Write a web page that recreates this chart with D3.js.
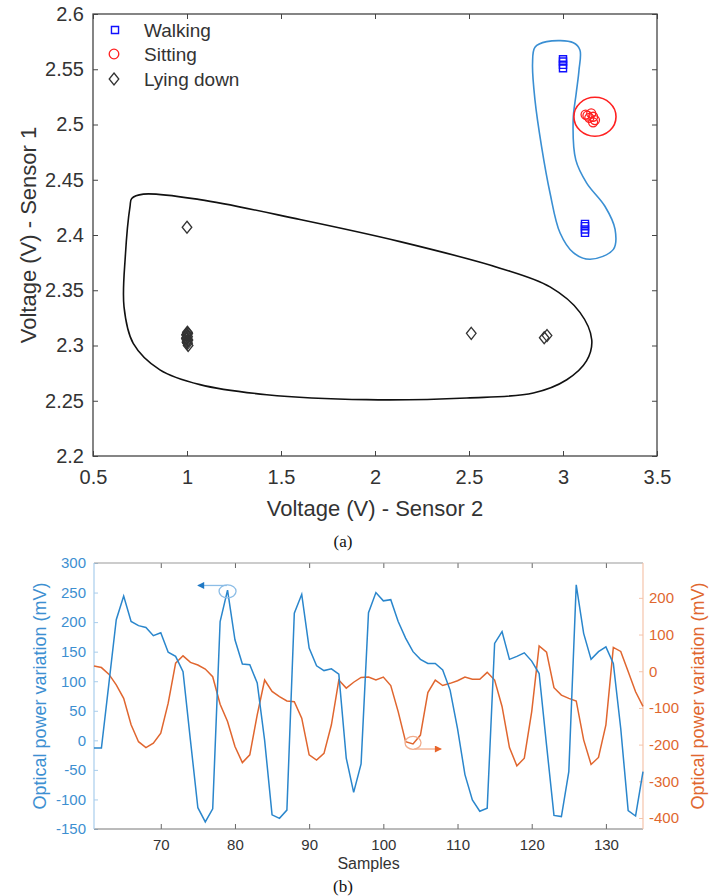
<!DOCTYPE html>
<html lang="en">
<head>
<meta charset="UTF-8">
<title>Sensor voltages and optical power</title>
<script src="https://d3js.org/d3.v7.min.js"></script>
<style>
    html, body { margin: 0; padding: 0; background: #fff; }
    svg text { font-family: "Liberation Sans", Arial, Helvetica, sans-serif; }
    .caption { font-family: "Liberation Serif", "Times New Roman", serif !important; }
</style>
</head>
<body>
<svg id="chart" width="716" height="896"></svg>
<script>
    // ---- (a) scatter data: [sensor 2, sensor 1] ----
    const walkingPts = [[3.0, 2.551], [3.0, 2.554], [3.0, 2.557], [3.0, 2.559],
                        [3.117, 2.402], [3.117, 2.405], [3.117, 2.408], [3.117, 2.410]];
    const sittingPts = [[3.12, 2.509], [3.13, 2.508], [3.15, 2.510], [3.16, 2.507],
                        [3.17, 2.504], [3.16, 2.502], [3.14, 2.506]];
    const lyingPts = [[1.0, 2.407],
                      [1.0, 2.303], [1.005, 2.305], [0.998, 2.307], [1.003, 2.308], [1.0, 2.310],
                      [1.004, 2.311], [0.997, 2.306], [1.006, 2.300], [1.001, 2.304], [0.999, 2.309],
                      [1.002, 2.312], [1.0, 2.306], [1.003, 2.302], [0.998, 2.310],
                      [2.512, 2.311], [2.9, 2.307], [2.915, 2.309]];
    const legendLabels = ["Walking", "Sitting", "Lying down"];

    // hand drawn group outlines, in data units
    const lyingOutline = [[0.706, 2.433], [0.768, 2.437], [1.069, 2.432], [1.601, 2.414], [2.133, 2.394],
        [2.665, 2.370], [2.931, 2.353], [3.09, 2.330], [3.153, 2.305], [3.125, 2.286], [3.02, 2.269],
        [2.842, 2.257], [2.488, 2.2525], [1.956, 2.251], [1.424, 2.2555], [1.069, 2.2646], [0.856, 2.278],
        [0.714, 2.302], [0.665, 2.335], [0.672, 2.381], [0.697, 2.426]];
    const walkingOutline = [[2.851, 2.570], [2.913, 2.575], [3.055, 2.574], [3.090, 2.5675], [3.085, 2.549],
        [3.070, 2.528], [3.054, 2.504], [3.068, 2.468], [3.126, 2.447], [3.223, 2.426], [3.277, 2.405],
        [3.268, 2.387], [3.144, 2.378], [3.055, 2.384], [2.984, 2.402], [2.931, 2.438], [2.886, 2.480],
        [2.851, 2.522], [2.838, 2.555]];
    const sittingRing = { cx: 3.17, cy: 2.507, rx: 0.112, ry: 0.0176 };

    const xTicksA = [0.5, 1, 1.5, 2, 2.5, 3, 3.5];
    const yTicksA = [2.2, 2.25, 2.3, 2.35, 2.4, 2.45, 2.5, 2.55, 2.6];

    // ---- (b) time series ----
    const samples = d3.range(61, 136);
    const leftSeries = [-13, -13, 95, 204, 244, 201, 194, 191, 177, 182,
        149, 142, 116, 0, -114, -138, -116, 201, 254, 170,
        129, 128, 97, 0, -126, -132, -118, 215, 247, 156,
        126, 118, 121, 112, -30, -88, -40, 216, 250, 236,
        238, 201, 173, 150, 137, 130, 130, 119, 85, 20,
        -58, -101, -120, -115, 164, 184, 137, 142, 148, 134,
        113, -8, -127, -129, -53, 263, 181, 137, 150, 158,
        130, 20, -119, -128, -53];
    const rightSeries = [14, 10, -8, -37, -74, -146, -192, -208, -196, -169,
        -87, 22, 42, 24, 17, 6, -15, -90, -137, -205,
        -249, -228, -119, -24, -55, -69, -81, -83, -128, -228,
        -242, -224, -146, -24, -46, -30, -17, -16, -24, -16,
        -39, -110, -192, -198, -174, -58, -24, -39, -33, -26,
        -16, -22, -22, -3, -24, -96, -208, -258, -237, -110,
        69, 52, -45, -65, -74, -81, -187, -254, -235, -146,
        65, 54, -1, -56, -96];
    const xTicksB = [70, 80, 90, 100, 110, 120, 130];
    const leftTicksB = [-150, -100, -50, 0, 50, 100, 150, 200, 250, 300];
    const rightTicksB = [-400, -300, -200, -100, 0, 100, 200];

    // plain hyphen for negatives, like the original
    const fmt = d => String(+d.toFixed(3));

    const svg = d3.select("#chart");

    // =================== panel (a) ===================
    const A = { left: 93, right: 657, top: 14, bottom: 456 };
    const xa = d3.scaleLinear().domain([0.5, 3.5]).range([A.left, A.right]);
    const ya = d3.scaleLinear().domain([2.2, 2.6]).range([A.bottom, A.top]);
    const axisGrey = "#444";
    const textGrey = "#333";

    const ga = svg.append("g");

    function styleAxis(sel, col) {
        sel.select(".domain").remove();
        sel.selectAll(".tick line").attr("stroke", col).attr("stroke-width", 1);
    }

    ga.append("g").attr("transform", `translate(0,${A.bottom})`)
        .call(d3.axisBottom(xa).tickValues(xTicksA).tickSize(-5).tickPadding(14).tickFormat(fmt))
        .call(s => styleAxis(s, axisGrey))
        .call(s => s.selectAll("text").attr("font-size", 20).attr("fill", textGrey));
    ga.append("g").attr("transform", `translate(0,${A.top})`)
        .call(d3.axisTop(xa).tickValues(xTicksA).tickSize(-5).tickFormat(""))
        .call(s => styleAxis(s, axisGrey));
    ga.append("g").attr("transform", `translate(${A.left},0)`)
        .call(d3.axisLeft(ya).tickValues(yTicksA).tickSize(-5).tickPadding(9).tickFormat(fmt))
        .call(s => styleAxis(s, axisGrey))
        .call(s => s.selectAll("text").attr("font-size", 20).attr("fill", textGrey));
    ga.append("g").attr("transform", `translate(${A.right},0)`)
        .call(d3.axisRight(ya).tickValues(yTicksA).tickSize(-5).tickFormat(""))
        .call(s => styleAxis(s, axisGrey));

    ga.append("rect")
        .attr("x", A.left).attr("y", A.top)
        .attr("width", A.right - A.left).attr("height", A.bottom - A.top)
        .attr("fill", "none").attr("stroke", axisGrey).attr("stroke-width", 1.3);

    // outlines
    const outline = d3.line().x(d => xa(d[0])).y(d => ya(d[1])).curve(d3.curveCatmullRomClosed.alpha(0.5));
    ga.append("path").attr("d", outline(lyingOutline))
        .attr("fill", "none").attr("stroke", "#111").attr("stroke-width", 1.6);
    ga.append("path").attr("d", outline(walkingOutline))
        .attr("fill", "none").attr("stroke", "#3a8fd3").attr("stroke-width", 1.6);
    ga.append("ellipse")
        .attr("cx", xa(sittingRing.cx)).attr("cy", ya(sittingRing.cy))
        .attr("rx", xa(sittingRing.cx + sittingRing.rx) - xa(sittingRing.cx))
        .attr("ry", ya(sittingRing.cy) - ya(sittingRing.cy + sittingRing.ry))
        .attr("fill", "none").attr("stroke", "#ff2020").attr("stroke-width", 1.6);

    // markers
    const square = d3.symbol().type(d3.symbolSquare).size(50);
    const diamond = (cx, cy, r) => `M${cx},${cy - r}L${cx + r * 0.8},${cy}L${cx},${cy + r}L${cx - r * 0.8},${cy}Z`;

    ga.append("g").selectAll("path").data(lyingPts).join("path")
        .attr("d", d => diamond(xa(d[0]), ya(d[1]), 6))
        .attr("fill", "none").attr("stroke", "#333").attr("stroke-width", 1.3);
    ga.append("g").selectAll("path").data(walkingPts).join("path")
        .attr("transform", d => `translate(${xa(d[0])},${ya(d[1])})`)
        .attr("d", square)
        .attr("fill", "none").attr("stroke", "#1010ff").attr("stroke-width", 1.4);
    ga.append("g").selectAll("circle").data(sittingPts).join("circle")
        .attr("cx", d => xa(d[0])).attr("cy", d => ya(d[1])).attr("r", 4.5)
        .attr("fill", "none").attr("stroke", "#ff2020").attr("stroke-width", 1.3);

    // legend
    const legY = [30, 54, 79];
    const lg = ga.append("g");
    lg.append("path").attr("transform", `translate(115,${legY[0]})`).attr("d", square)
        .attr("fill", "none").attr("stroke", "#1010ff").attr("stroke-width", 1.4);
    lg.append("circle").attr("cx", 114).attr("cy", legY[1]).attr("r", 4.8)
        .attr("fill", "none").attr("stroke", "#ff2020").attr("stroke-width", 1.3);
    lg.append("path").attr("d", diamond(114, legY[2], 6))
        .attr("fill", "none").attr("stroke", "#333").attr("stroke-width", 1.3);
    lg.selectAll("text").data(legendLabels).join("text")
        .attr("x", 144).attr("y", (d, i) => legY[i] + 7)
        .attr("font-size", 19).attr("fill", textGrey).text(d => d);

    // titles
    ga.append("text").attr("x", (A.left + A.right) / 2).attr("y", 516)
        .attr("text-anchor", "middle").attr("font-size", 22).attr("fill", textGrey)
        .text("Voltage (V) - Sensor 2");
    ga.append("text").attr("transform", `translate(36,${(A.top + A.bottom) / 2}) rotate(-90)`)
        .attr("text-anchor", "middle").attr("font-size", 22).attr("fill", textGrey)
        .text("Voltage (V) - Sensor 1");
    ga.append("text").attr("class", "caption").attr("x", 343).attr("y", 547)
        .attr("text-anchor", "middle").attr("font-size", 17).attr("fill", "#111").text("(a)");

    // =================== panel (b) ===================
    const B = { left: 94, right: 643, top: 563, bottom: 829 };
    const xb = d3.scaleLinear().domain([61, 135]).range([B.left, B.right]);
    const yl = d3.scaleLinear().domain([-150, 300]).range([B.bottom, B.top]);
    const yr = d3.scaleLinear().domain([-430, 295]).range([B.bottom, B.top]);

    const blue = "#2a86cc", blueAxis = "#3d8fd1", blueLight = "#a8cdec";
    const orange = "#e0662f", orangeAxis = "#e0672f", orangeLight = "#f5c4ab";
    const gb = svg.append("g");

    gb.append("g").attr("transform", `translate(0,${B.bottom})`)
        .call(d3.axisBottom(xb).tickValues(xTicksB).tickSize(-5).tickPadding(10).tickFormat(fmt))
        .call(s => styleAxis(s, "#666"))
        .call(s => s.selectAll("text").attr("font-size", 15).attr("fill", textGrey));
    gb.append("g").attr("transform", `translate(0,${B.top})`)
        .call(d3.axisTop(xb).tickValues(xTicksB).tickSize(-5).tickFormat(""))
        .call(s => styleAxis(s, "#666"));
    gb.append("g").attr("transform", `translate(${B.left},0)`)
        .call(d3.axisLeft(yl).tickValues(leftTicksB).tickSize(-4).tickPadding(8).tickFormat(fmt))
        .call(s => styleAxis(s, blueLight))
        .call(s => s.selectAll("text").attr("font-size", 15).attr("fill", blueAxis));
    gb.append("g").attr("transform", `translate(${B.right},0)`)
        .call(d3.axisRight(yr).tickValues(rightTicksB).tickSize(-4).tickPadding(6).tickFormat(fmt))
        .call(s => styleAxis(s, orangeLight))
        .call(s => s.selectAll("text").attr("font-size", 15).attr("fill", orangeAxis));

    gb.append("line").attr("x1", B.left).attr("x2", B.right).attr("y1", B.top).attr("y2", B.top)
        .attr("stroke", "#999").attr("stroke-width", 1);
    gb.append("line").attr("x1", B.left).attr("x2", B.right).attr("y1", B.bottom).attr("y2", B.bottom)
        .attr("stroke", "#777").attr("stroke-width", 1);
    gb.append("line").attr("x1", B.left).attr("x2", B.left).attr("y1", B.top).attr("y2", B.bottom)
        .attr("stroke", blueLight).attr("stroke-width", 1.2);
    gb.append("line").attr("x1", B.right).attr("x2", B.right).attr("y1", B.top).attr("y2", B.bottom)
        .attr("stroke", orangeLight).attr("stroke-width", 1.2);

    const rightLine = d3.line().x((d, i) => xb(samples[i])).y(d => yr(d));
    const leftLine = d3.line().x((d, i) => xb(samples[i])).y(d => yl(d));
    gb.append("path").attr("d", rightLine(rightSeries))
        .attr("fill", "none").attr("stroke", orange).attr("stroke-width", 1.5);
    gb.append("path").attr("d", leftLine(leftSeries))
        .attr("fill", "none").attr("stroke", blue).attr("stroke-width", 1.5);

    // arrows that point each curve at its axis
    const defs = svg.append("defs");
    [["headBlue", "#1f78c4"], ["headOrange", "#e8642a"]].forEach(([id, col]) => {
        defs.append("marker").attr("id", id).attr("viewBox", "0 0 10 10")
            .attr("refX", 9).attr("refY", 5).attr("markerWidth", 9).attr("markerHeight", 7)
            .attr("markerUnits", "userSpaceOnUse").attr("orient", "auto")
            .append("path").attr("d", "M0,0L10,5L0,10Z").attr("fill", col);
    });
    gb.append("ellipse").attr("cx", xb(79)).attr("cy", yl(252))
        .attr("rx", 8.5).attr("ry", 6.5).attr("fill", "none").attr("stroke", "#8cbde6").attr("stroke-width", 1.3);
    gb.append("line").attr("x1", xb(78.9)).attr("y1", yl(262)).attr("x2", xb(75)).attr("y2", yl(262))
        .attr("stroke", "#8cbde6").attr("stroke-width", 1.3).attr("marker-end", "url(#headBlue)");
    gb.append("ellipse").attr("cx", xb(104)).attr("cy", yr(-195))
        .attr("rx", 8).attr("ry", 6.5).attr("fill", "none").attr("stroke", "#f2ad8c").attr("stroke-width", 1.3);
    gb.append("line").attr("x1", xb(104.2)).attr("y1", yr(-212)).attr("x2", xb(107.8)).attr("y2", yr(-212))
        .attr("stroke", "#f2ad8c").attr("stroke-width", 1.3).attr("marker-end", "url(#headOrange)");

    gb.append("text").attr("x", (B.left + B.right) / 2).attr("y", 869)
        .attr("text-anchor", "middle").attr("font-size", 16).attr("fill", textGrey).text("Samples");
    gb.append("text").attr("transform", `translate(46,${(B.top + B.bottom) / 2}) rotate(-90)`)
        .attr("text-anchor", "middle").attr("font-size", 18).attr("fill", blueAxis)
        .text("Optical power variation (mV)");
    gb.append("text").attr("transform", `translate(704,${(B.top + B.bottom) / 2}) rotate(-90)`)
        .attr("text-anchor", "middle").attr("font-size", 18).attr("fill", orangeAxis)
        .text("Optical power variation (mV)");
    gb.append("text").attr("class", "caption").attr("x", 343).attr("y", 892)
        .attr("text-anchor", "middle").attr("font-size", 17).attr("fill", "#111").text("(b)");
</script>
</body>
</html>
